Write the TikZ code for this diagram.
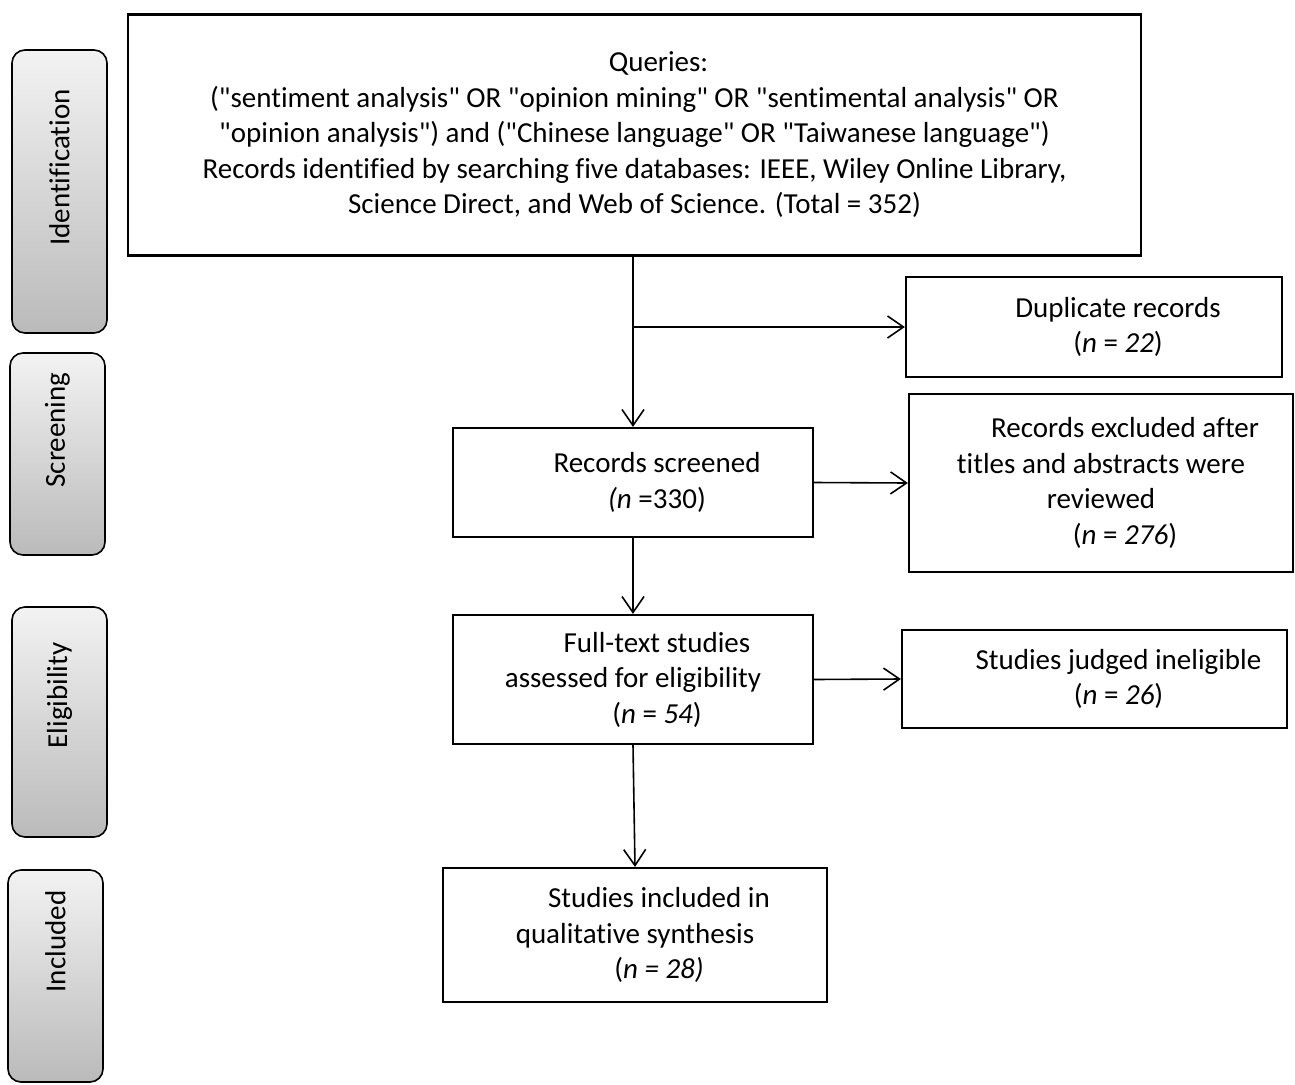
\documentclass[tikz,border=0pt]{standalone}
\usepackage{fontspec}
\setmainfont{Carlito}[Ligatures={TeXOff,NoCommon}]
\usetikzlibrary{arrows.meta}
\newcommand{\pad}{\hspace*{48pt}}
\newcommand{\stagelabel}[2]{\rotatebox{90}{\hspace*{#1pt}#2}}
\begin{document}
\begin{tikzpicture}[x=1pt,y=-1pt]
    \tikzset{BoxStyle/.style = {%
        shape = rectangle,
        draw, line width = 2.2pt,
        align = center,
        font = \fontsize{29}{35.5}\selectfont}}
    \tikzset{StageStyle/.style = {%
        shape = rectangle,
        rounded corners = 13pt,
        draw, line width = 1.6pt,
        top color = black!5,
        bottom color = black!27,
        minimum width = 95pt,
        font = \fontsize{29}{35.5}\selectfont}}
    \tikzset{ArrowStyle/.style = {%
        line width = 1.6pt,
        -{Straight Barb[length=16pt,width=22pt,line width=1.6pt]}}}
    \useasboundingbox (0,0) rectangle (1295,1084);
    % stages
    \node[StageStyle,minimum height=283pt] (ident) at (59.5,191.5) {\stagelabel{48}{Identification}};
    \node[StageStyle,minimum height=202pt] (screen) at (57.5,454) {\stagelabel{48}{Screening}};
    \node[StageStyle,minimum height=230pt] (elig) at (59.5,722) {\stagelabel{53}{Eligibility}};
    \node[StageStyle,minimum height=212pt] (incl) at (55.5,976) {\stagelabel{69}{Included}};
    % boxes
    \node[BoxStyle,minimum width=1013pt,minimum height=241pt] (queries) at (634.5,135) {%
        \pad Queries:\\
        ("sentiment analysis" OR "opinion mining" OR "sentimental analysis" OR\\
        "opinion analysis") and ("Chinese language" OR "Taiwanese language")\\
        Records identified by searching five databases: IEEE, Wiley Online Library,\\
        Science Direct, and Web of Science. (Total = 352)};
    \node[BoxStyle,minimum width=360pt,minimum height=109pt] (screened) at (633,482.5) {%
        \pad Records screened\\
        \pad\textit{(n} =330)};
    \node[BoxStyle,minimum width=376pt,minimum height=100pt] (dup) at (1094,327) {%
        \pad Duplicate records\\
        \pad(\textit{n} = \textit{22})};
    \node[BoxStyle,minimum width=384pt,minimum height=178pt] (excl) at (1101,483) {%
        \pad Records excluded after\\
        titles and abstracts were\\
        reviewed\\
        \pad(\textit{n} = \textit{276})};
    \node[BoxStyle,minimum width=360pt,minimum height=129pt] (fulltext) at (633,679.5) {%
        \pad Full-text studies\\
        assessed for eligibility\\
        \pad(\textit{n} = \textit{54})};
    \node[BoxStyle,minimum width=385pt,minimum height=98pt] (inelig) at (1094.5,679) {%
        \pad Studies judged ineligible\\
        \pad(\textit{n} = \textit{26})};
    \node[BoxStyle,minimum width=384pt,minimum height=134pt] (included) at (635,935) {%
        \pad Studies included in\\
        qualitative synthesis\\
        \pad(\textit{n = 28)}};
    % connectors
    \coordinate (split) at (screened.north |- dup.west);
    \draw[ArrowStyle] (screened.north |- queries.south) -- (screened.north);
    \draw[ArrowStyle] (split) -- (dup.west);
    \draw[ArrowStyle] (screened.east) -- (excl.west);
    \draw[ArrowStyle] (screened.south) -- (fulltext.north);
    \draw[ArrowStyle] (fulltext.east) -- (inelig.west);
    \draw[ArrowStyle] (fulltext.south) -- (included.north);
\end{tikzpicture}
\end{document}
